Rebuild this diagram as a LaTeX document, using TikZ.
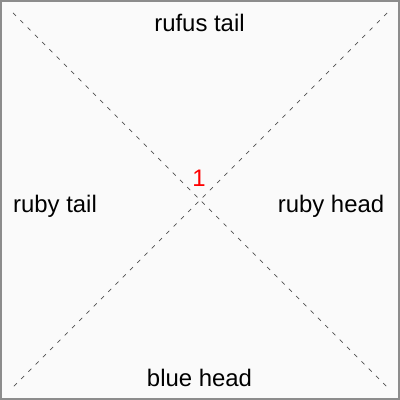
\documentclass[tikz,border=0pt]{standalone}
\usepackage{fontspec}
\setmainfont{Liberation Sans}
\usepackage{tikz}
\definecolor{frame}{RGB}{140,140,140}
\definecolor{paper}{RGB}{250,250,250}
\definecolor{diag}{RGB}{80,80,80}

\begin{document}
\begin{tikzpicture}[x=0.025cm, y=-0.025cm, lab/.style={font=\fontsize{17}{20}\selectfont, inner sep=0pt, anchor=base}, cross/.style={diag, line width=0.5pt, dash pattern=on 3pt off 4.3pt}]
	\useasboundingbox (0,0) rectangle (400,400);
	\draw[frame, fill=paper, line width=1.4pt] (1,1) rectangle (399,399);
	\coordinate (nw) at (13,13);
	\coordinate (ne) at (387,13);
	\coordinate (sw) at (13,387);
	\coordinate (se) at (387,387);
	\draw[cross] (nw) -- (se);
	\draw[cross] (ne) -- (sw);
	\node[lab] (top) at (199.5,31.7) {rufus tail};
	\node[lab] (left) at (55,212) {ruby tail};
	\node[lab] (right) at (331,212) {ruby head};
	\node[lab] (bottom) at (199.5,386.7) {blue head};
	\node[lab, red] (one) at (199,186) {1};
\end{tikzpicture}
\end{document}
